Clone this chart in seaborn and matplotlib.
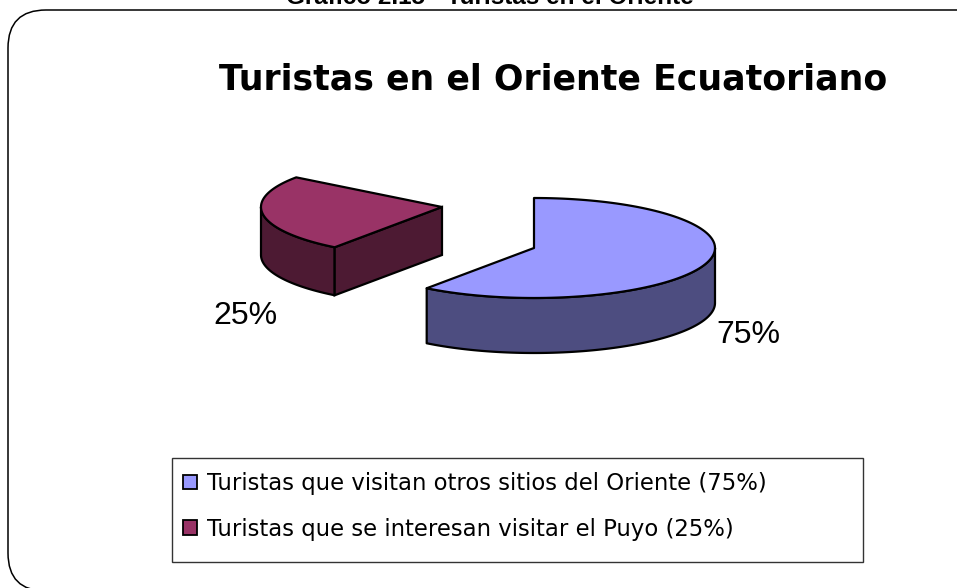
import numpy as np
import matplotlib
matplotlib.use("Agg")
import matplotlib.pyplot as plt
import seaborn as sns
from matplotlib.patches import FancyBboxPatch, Patch, Rectangle

# angular share of the circle each slice really covers in the picture
# (the blue slice is labelled 75% but is drawn at about 60%, the rest is empty)
slice_names = ["Turistas que visitan otros sitios del Oriente (75%)",
               "Turistas que se interesan visitar el Puyo (25%)"]
drawn_shares = [60.1, 25.0]
label_values = [75, 25]
top_colors = ["#9999FF", "#993366"]
side_colors = ["#4D4D80", "#4D1A33"]

sns.set_theme(style="white")
plt.rcParams["font.family"] = ["DejaVu Sans"]

fig = plt.figure(figsize=(9.57, 5.88), dpi=100)
ax = fig.add_axes([0, 0, 1, 1])
ax.set_xlim(0, 957)
ax.set_ylim(588, 0)
ax.axis("off")

# rounded page frame, runs off the right and bottom edge
ax.add_patch(FancyBboxPatch((8 + 38, 10 + 38), 915, 505,
                            boxstyle="round,pad=38,rounding_size=38",
                            fc="white", ec="black", lw=1.1, clip_on=True))


def arc(cx, cy, start, end, rx=181, ry=50):
    t = np.radians(np.linspace(start, end, 120))
    return cx + rx * np.sin(t), cy - ry * np.cos(t)


def draw_slice(cx, cy, start, end, depth, top, side):
    # front wall follows the lower part of the rim
    lo, hi = max(start, 90), min(end, 270)
    if hi > lo:
        x, y = arc(cx, cy, lo, hi)
        ax.fill(np.r_[x, x[::-1]], np.r_[y, y[::-1] + depth],
                fc=side, ec="black", lw=1.6, joinstyle="round")
    # flat cut face that looks towards the viewer
    if start > 180:
        x, y = arc(cx, cy, start, start, rx=181)
        ax.fill([cx, x[0], x[0], cx], [cy, y[0], y[0] + depth, cy + depth],
                fc=side, ec="black", lw=1.6)
    x, y = arc(cx, cy, start, end)
    ax.fill(np.r_[cx, x], np.r_[cy, y], fc=top, ec="black", lw=1.6, joinstyle="round")


blue_end = drawn_shares[0] * 3.6
red_end = blue_end + drawn_shares[1] * 3.6
draw_slice(442, 207, blue_end, red_end, 48, top_colors[1], side_colors[1])
draw_slice(534, 248, 0, blue_end, 55, top_colors[0], side_colors[0])

ax.text(245, 316, f"{label_values[1]}%", family="Liberation Sans", fontsize=23,
        ha="center", va="center", color="black")
ax.text(748, 335, f"{label_values[0]}%", family="Liberation Sans", fontsize=23,
        ha="center", va="center", color="black")

ax.text(553, 80, "Turistas en el Oriente Ecuatoriano", fontsize=25, fontweight="bold",
        ha="center", va="center", color="black")
ax.text(490, 4, "Gráfico 2.15 - Turistas en el Oriente", family="Liberation Sans",
        fontsize=17.5, fontweight="bold", ha="center", va="baseline", color="black")

# legend box is wider than its entries, so the frame is separate
ax.add_patch(Rectangle((172, 458), 691, 104, fc="white", ec="#333333", lw=1))
handles = [Patch(fc=c, ec="black", lw=1.3) for c in top_colors]
ax.legend(handles, slice_names, loc="upper left", bbox_to_anchor=(183 / 957, 1 - 472 / 588),
          frameon=False, fontsize=16.4, handlelength=0.62, handleheight=0.62,
          handletextpad=0.44, labelspacing=1.0, borderpad=0, borderaxespad=0,
          labelcolor="black")

fig.savefig("out.png", dpi=100)
